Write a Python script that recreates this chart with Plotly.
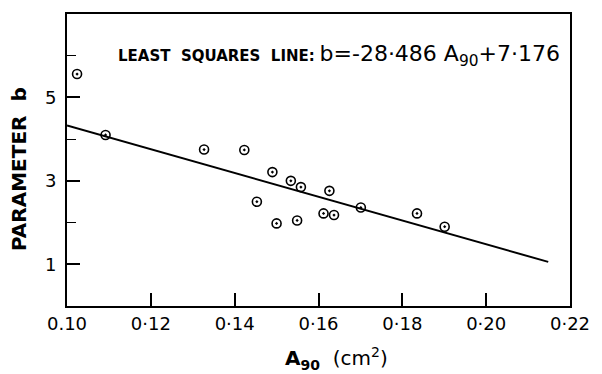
import plotly.graph_objects as go

# Data
a90 = [0.1024, 0.1092, 0.1327, 0.1423, 0.1490, 0.1534, 0.1558, 0.1453,
       0.1500, 0.1549, 0.1626, 0.1612, 0.1637, 0.1701, 0.1835, 0.1901]
b_vals = [5.56, 4.10, 3.75, 3.74, 3.21, 3.00, 2.85, 2.50,
          1.98, 2.05, 2.76, 2.22, 2.18, 2.36, 2.22, 1.90]

slope = -28.486
intercept = 7.176
line_x = [0.10, 0.2148]
line_y = [slope * x + intercept for x in line_x]

x_tickvals = [0.10, 0.12, 0.14, 0.16, 0.18, 0.20, 0.22]
x_ticktext = ["0.10", "0·12", "0·14", "0·16", "0·18", "0·20", "0·22"]
y_tickvals = [1, 3, 5]
y_ticktext = ["1", "3", "5"]
y_minor = [2, 4, 6]

FONT = "DejaVu Sans"

fig = go.Figure()
fig.add_trace(go.Scatter(x=line_x, y=line_y, mode="lines",
                         line=dict(color="black", width=2), showlegend=False))
fig.add_trace(go.Scatter(x=a90, y=b_vals, mode="markers",
                         marker=dict(symbol="circle-open-dot", size=9,
                                     color="black", line=dict(width=1.6, color="black")),
                         showlegend=False))

fig.update_layout(
    width=602, height=374,
    margin=dict(l=67, r=27, t=13, b=68),
    paper_bgcolor="white", plot_bgcolor="white",
    font=dict(family=FONT, color="black"),
    xaxis=dict(range=[0.10, 0.22], tickvals=x_tickvals, ticktext=x_ticktext,
               ticks="inside", ticklen=13, tickwidth=1.5, tickcolor="black",
               showline=True, linecolor="black", linewidth=2, mirror=True,
               showgrid=False, zeroline=False,
               tickfont=dict(size=18, family=FONT, color="black")),
    yaxis=dict(range=[0, 7], tickvals=y_tickvals, ticktext=y_ticktext,
               ticks="inside", ticklen=13, tickwidth=1.5, tickcolor="black",
               minor=dict(tickvals=y_minor, ticks="inside", ticklen=9,
                          tickwidth=1.2, tickcolor="black"),
               showline=True, linecolor="black", linewidth=2, mirror=True,
               showgrid=False, zeroline=False, ticklabelstandoff=5,
               tickfont=dict(size=18, family=FONT, color="black")),
    annotations=[
        dict(xref="paper", yref="paper", x=0.098, y=0.857, xanchor="left", yanchor="middle",
             showarrow=False,
             text="<b>LEAST  SQUARES  LINE:</b> <span style='font-size:22px'>b=-28·486 A<sub>90</sub>+7·176</span>",
             font=dict(size=15, family=FONT, color="black")),
        dict(xref="paper", yref="paper", x=-0.095, y=0.47, xanchor="center", yanchor="middle",
             showarrow=False, textangle=-90,
             text="<b>PARAMETER  b</b>",
             font=dict(size=20, family=FONT, color="black")),
        dict(xref="paper", yref="paper", x=0.535, y=-0.18, xanchor="center", yanchor="middle",
             showarrow=False,
             text="<b>A<sub>90</sub></b>  (cm<sup>2</sup>)",
             font=dict(size=20, family=FONT, color="black")),
    ],
)

fig.write_html("out.html")
